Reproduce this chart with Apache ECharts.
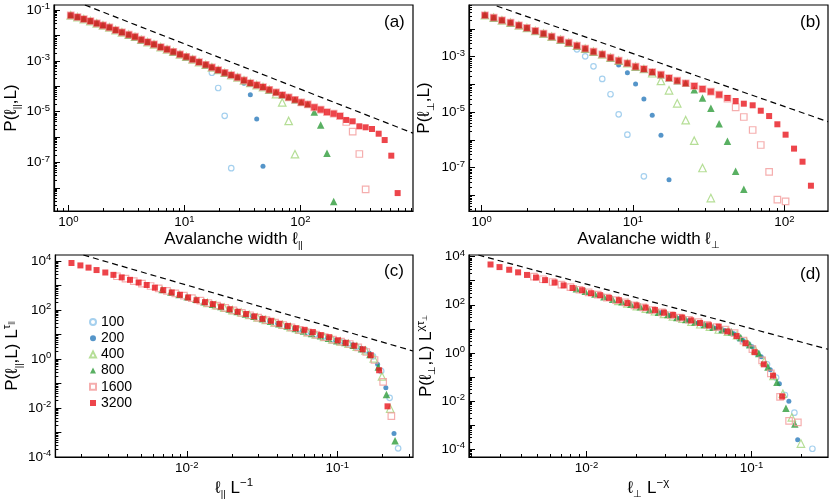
<!DOCTYPE html>
<html>
<head>
<meta charset="utf-8">
<script src="https://cdn.jsdelivr.net/npm/echarts@6/dist/echarts.min.js"></script>
<style>
html, body { margin: 0; padding: 0; background: #fff; }
#main { width: 831px; height: 501px; }
</style>
</head>
<body>
<div id="main"></div>
<script>
// avalanche widths (bin centres) shared by panels (a) and (b)
var ell = [1.05, 1.20, 1.36, 1.55, 1.76, 1.99, 2.26, 2.56, 2.90, 3.32, 3.76, 4.26, 4.83, 5.48, 6.26, 7.10, 8.04, 9.18, 10.4, 11.8,
    13.4, 15.3, 17.3, 19.6, 22.3, 25.4, 28.8, 32.7, 37.1, 42.1, 47.7, 54.0, 61.8, 69.9, 79.4, 90.0, 102, 116, 132, 150,
    170, 194, 220, 249, 283, 323, 366, 415, 474, 534, 609, 691];

var sizes = ['100', '200', '400', '800', '1600', '3200'];

// (a) P(l_par, L), one value per width in ell
var a3200 = [6.18e-2, 5.29e-2, 4.42e-2, 3.69e-2, 2.99e-2, 2.50e-2, 2.08e-2, 1.63e-2, 1.33e-2, 1.07e-2,
    8.9e-3, 6.78e-3, 5.5e-3, 4.47e-3, 3.49e-3, 2.84e-3, 2.28e-3, 1.80e-3, 1.45e-3, 1.15e-3,
    8.97e-4, 7.02e-4, 5.55e-4, 4.35e-4, 3.40e-4, 2.76e-4, 2.24e-4, 1.71e-4, 1.34e-4, 1.11e-4,
    9.3e-5, 7.28e-5, 5.75e-5, 4.51e-5, 3.66e-5, 2.94e-5, 2.32e-5, 1.94e-5, 1.48e-5, 1.2e-5,
    9.6e-6, 8.3e-6, 6.7e-6, 4.7e-6, 4.15e-6, 2.64e-6, 2.41e-6, 2.07e-6, 1.35e-6, 7.6e-7, 1.84e-7, 6.2e-9];
var a1600 = [6.18e-2, 5.29e-2, 4.42e-2, 3.69e-2, 2.99e-2, 2.50e-2, 2.08e-2, 1.63e-2, 1.33e-2, 1.07e-2,
    8.9e-3, 6.78e-3, 5.5e-3, 4.47e-3, 3.49e-3, 2.84e-3, 2.28e-3, 1.80e-3, 1.45e-3, 1.15e-3,
    8.97e-4, 7.02e-4, 5.55e-4, 4.35e-4, 3.40e-4, 2.76e-4, 2.24e-4, 1.71e-4, 1.34e-4, 1.11e-4,
    9.3e-5, 7.28e-5, 5.75e-5, 4.51e-5, 3.66e-5, 2.94e-5, 2.32e-5, 1.94e-5, 1.48e-5, 1.2e-5,
    9.6e-6, 8.3e-6, 6.7e-6, 3.9e-6, 1.62e-6, 2.14e-7, 8.7e-9];
var a800 = [6.18e-2, 5.29e-2, 4.42e-2, 3.69e-2, 2.99e-2, 2.50e-2, 2.08e-2, 1.63e-2, 1.33e-2, 1.07e-2,
    8.9e-3, 6.78e-3, 5.5e-3, 4.47e-3, 3.49e-3, 2.84e-3, 2.28e-3, 1.80e-3, 1.45e-3, 1.15e-3,
    8.97e-4, 7.02e-4, 5.55e-4, 4.35e-4, 3.40e-4, 2.76e-4, 2.24e-4, 1.71e-4, 1.34e-4, 1.11e-4,
    9.3e-5, 7.28e-5, 5.75e-5, 4.51e-5, 3.66e-5, 2.94e-5, 2.32e-5, 1.94e-5, 9.6e-6, 2.96e-6, 2.28e-7, 2.9e-9];
var a400 = [6.18e-2, 5.29e-2, 4.42e-2, 3.69e-2, 2.99e-2, 2.50e-2, 2.08e-2, 1.63e-2, 1.33e-2, 1.07e-2,
    8.9e-3, 6.78e-3, 5.5e-3, 4.47e-3, 3.49e-3, 2.84e-3, 2.28e-3, 1.80e-3, 1.45e-3, 1.15e-3,
    8.97e-4, 7.02e-4, 5.55e-4, 4.35e-4, 3.40e-4, 2.76e-4, 2.24e-4, 1.71e-4, 1.34e-4, 1.11e-4,
    9.3e-5, 7.28e-5, 4.9e-5, 2.3e-5, 4.3e-6, 2.1e-7];
var a200 = [6.18e-2, 5.29e-2, 4.42e-2, 3.69e-2, 2.99e-2, 2.50e-2, 2.08e-2, 1.63e-2, 1.33e-2, 1.07e-2,
    8.9e-3, 6.78e-3, 5.5e-3, 4.47e-3, 3.49e-3, 2.84e-3, 2.28e-3, 1.80e-3, 1.45e-3, 1.15e-3,
    8.97e-4, 7.02e-4, 5.55e-4, 4.35e-4, 3.40e-4, 2.76e-4, 2.24e-4, 1.3e-4, 4.6e-5, 5.1e-6, 7.0e-8];
var a100 = [6.18e-2, 5.29e-2, 4.42e-2, 3.69e-2, 2.99e-2, 2.50e-2, 2.08e-2, 1.63e-2, 1.33e-2, 1.07e-2,
    8.9e-3, 6.78e-3, 5.5e-3, 4.47e-3, 3.49e-3, 2.84e-3, 2.28e-3, 1.80e-3, 1.45e-3, 1.15e-3,
    8.97e-4, 7.02e-4, 3.4e-4, 8.5e-5, 6.8e-6, 5.9e-8];

// (b) P(l_perp, L), one value per width in ell (null = no point)
var b3200 = [3.13e-2, 2.56e-2, 2.06e-2, 1.69e-2, 1.36e-2, 1.09e-2, 8.5e-3, 6.8e-3, 5.3e-3, 4.1e-3,
    3.2e-3, 2.5e-3, 1.95e-3, 1.52e-3, 1.22e-3, 9.2e-4, 7.2e-4, 5.8e-4, 4.36e-4, 3.6e-4,
    2.8e-4, 2.24e-4, 1.70e-4, 1.36e-4, 1.10e-4, 8.75e-5, 6.8e-5, 5.45e-5, 4.25e-5, 3.23e-5,
    2.52e-5, 2.01e-5, 1.76e-5, 1.12e-5, 7.2e-6, 3.63e-6, 1.53e-6, 4.8e-7, 1.62e-7, 2.2e-8];
var b1600 = [3.13e-2, 2.56e-2, 2.06e-2, 1.69e-2, 1.36e-2, 1.09e-2, 8.5e-3, 6.8e-3, 5.3e-3, 4.1e-3,
    3.2e-3, 2.5e-3, 1.95e-3, 1.52e-3, 1.22e-3, 9.2e-4, 7.2e-4, 5.8e-4, 4.36e-4, 3.6e-4,
    2.8e-4, 2.24e-4, 1.70e-4, 1.36e-4, 1.10e-4, 8.75e-5, 6.8e-5, 5.45e-5, 4.25e-5, 3.05e-5,
    1.49e-5, 6.65e-6, 2.26e-6, 6.5e-7, 6.9e-8, 6.9e-9, 6.0e-9];
var b800 = [3.13e-2, 2.56e-2, 2.06e-2, 1.69e-2, 1.36e-2, 1.09e-2, 8.5e-3, 6.8e-3, 5.3e-3, 4.1e-3,
    3.2e-3, 2.5e-3, 1.95e-3, 1.52e-3, 1.22e-3, 9.2e-4, 7.2e-4, 5.8e-4, 4.36e-4, 3.6e-4,
    2.8e-4, 2.24e-4, 1.70e-4, 1.36e-4, 1.10e-4, 6.4e-5, 3.23e-5, 1.37e-5, 3.8e-6, 8.8e-7, 7.3e-8, 1.63e-8];
var b400 = [3.13e-2, 2.56e-2, 2.06e-2, 1.69e-2, 1.36e-2, 1.09e-2, 8.5e-3, 6.8e-3, 5.3e-3, 4.1e-3,
    3.2e-3, 2.5e-3, 1.95e-3, 1.52e-3, 1.22e-3, 9.2e-4, 7.2e-4, 5.8e-4, 4.36e-4, 3.6e-4,
    2.52e-4, 1.33e-4, 6.1e-5, 2.08e-5, 5.1e-6, 9.3e-7, 9.6e-8, 7.9e-9];
var b200 = [3.13e-2, 2.56e-2, 2.06e-2, 1.69e-2, 1.36e-2, 1.09e-2, 8.5e-3, 6.8e-3, 5.3e-3, 4.1e-3,
    3.2e-3, 2.5e-3, 1.95e-3, 1.52e-3, 1.22e-3, 9.2e-4, 5.0e-4, 2.64e-4, 1.03e-4, 2.97e-5, 7.7e-6, 1.45e-6, 3.6e-8];
var b100 = [3.13e-2, 2.56e-2, 2.06e-2, 1.69e-2, 1.36e-2, 1.09e-2, 8.5e-3, 6.8e-3, 5.3e-3, 4.1e-3,
    3.2e-3, 1.85e-3, 1.03e-3, 4.5e-4, 1.57e-4, 4.4e-5, 8.3e-6, 1.53e-6, null, 4.8e-8];

// (c) scaled: [l_par / L, P L^tau]
var c3200 = [[1.71e-3, 8300], [1.96e-3, 6600], [2.22e-3, 5370], [2.51e-3, 4270], [2.87e-3, 3390], [3.25e-3, 2720],
    [3.69e-3, 2140], [4.19e-3, 1700], [4.78e-3, 1320], [5.41e-3, 1050], [6.13e-3, 813], [6.97e-3, 646], [7.94e-3, 519],
    [9.0e-3, 417], [1.02e-2, 324], [1.16e-2, 251], [1.32e-2, 209], [1.49e-2, 174], [1.69e-2, 138], [1.93e-2, 107],
    [2.18e-2, 85], [2.48e-2, 69], [2.81e-2, 55], [3.19e-2, 43.6], [3.63e-2, 36.3], [4.13e-2, 27.5], [4.69e-2, 22.4],
    [5.31e-2, 18.2], [6.06e-2, 15.5], [6.88e-2, 12.6], [7.78e-2, 9.5], [8.84e-2, 7.8], [0.101, 5.8], [0.114, 4.6],
    [0.130, 3.5], [0.148, 2.5], [0.167, 1.43], [0.190, 0.347], [0.216, 0.0117]];
var c1600 = [[3.43e-3, 2390], [3.91e-3, 1900], [4.44e-3, 1510], [5.03e-3, 1200], [5.74e-3, 955], [6.5e-3, 760],
    [7.38e-3, 603], [8.38e-3, 481], [9.56e-3, 383], [1.08e-2, 303], [1.23e-2, 242], [1.39e-2, 192], [1.59e-2, 152],
    [1.80e-2, 121], [2.04e-2, 96.6], [2.32e-2, 76.9], [2.63e-2, 61], [2.98e-2, 48.5], [3.38e-2, 38.6], [3.86e-2, 30.6],
    [4.37e-2, 24.4], [4.96e-2, 19.4], [5.63e-2, 15.4], [6.38e-2, 12.3], [7.25e-2, 9.8], [8.25e-2, 7.8], [9.38e-2, 6.2],
    [0.106, 5.1], [0.121, 4.1], [0.138, 3.0], [0.156, 1.93], [0.177, 0.91], [0.202, 0.117], [0.229, 4.7e-3]];
var c800 = [[6.85e-3, 686], [7.83e-3, 546], [8.88e-3, 434], [1.005e-2, 344], [1.15e-2, 275], [1.30e-2, 219],
    [1.48e-2, 173], [1.68e-2, 138], [1.91e-2, 110], [2.16e-2, 87], [2.45e-2, 69.3], [2.79e-2, 55.2], [3.18e-2, 43.8],
    [3.6e-2, 34.8], [4.09e-2, 27.7], [4.64e-2, 22.1], [5.26e-2, 17.5], [5.96e-2, 13.9], [6.75e-2, 11.1], [7.73e-2, 8.8],
    [8.74e-2, 7.0], [9.93e-2, 5.6], [0.1125, 4.7], [0.1275, 3.6], [0.145, 2.6], [0.165, 1.51], [0.1875, 0.468],
    [0.2125, 0.0358], [0.2425, 4.6e-4]];
var c400 = [[1.37e-2, 197], [1.565e-2, 157], [1.775e-2, 125], [2.01e-2, 99], [2.3e-2, 78.9], [2.6e-2, 62.8],
    [2.95e-2, 49.8], [3.35e-2, 39.6], [3.83e-2, 31.5], [4.33e-2, 25], [4.9e-2, 19.9], [5.58e-2, 15.8], [6.35e-2, 12.6],
    [7.2e-2, 10], [8.18e-2, 8.0], [9.28e-2, 6.3], [0.105, 5.2], [0.119, 4.2], [0.135, 3.2], [0.1545, 2.23],
    [0.175, 1.06], [0.1985, 0.194], [0.225, 9.5e-3]];
var c200 = [[2.74e-2, 56.6], [3.13e-2, 45.1], [3.55e-2, 35.9], [4.02e-2, 28.4], [4.59e-2, 22.6], [5.2e-2, 18],
    [5.9e-2, 14.3], [6.7e-2, 11.4], [7.65e-2, 9.1], [8.65e-2, 7.2], [9.8e-2, 5.75], [0.1115, 4.8], [0.127, 3.8],
    [0.144, 2.75], [0.1635, 1.71], [0.1855, 0.608], [0.2105, 0.0673], [0.2385, 9.2e-4]];
var c100 = [[5.48e-2, 16.3], [6.26e-2, 12.9], [7.1e-2, 10.3], [8.04e-2, 8.2], [9.18e-2, 6.5], [0.104, 5.4],
    [0.118, 4.3], [0.134, 3.2], [0.153, 2.3], [0.173, 1.29], [0.196, 0.324], [0.223, 0.026], [0.254, 2.25e-4]];

// (d) scaled: [l_perp L^-chi, P L^(chi tau)]
var d3200 = [[2.62e-3, 4740], [2.97e-3, 3690], [3.40e-3, 2860], [3.85e-3, 2230], [4.36e-3, 1740], [4.94e-3, 1360],
    [5.61e-3, 1060], [6.41e-3, 849], [7.27e-3, 641], [8.23e-3, 501], [9.4e-3, 404], [1.065e-2, 303], [1.21e-2, 251],
    [1.37e-2, 195], [1.57e-2, 156], [1.77e-2, 118], [2.01e-2, 94.8], [2.28e-2, 76.6], [2.6e-2, 61], [2.95e-2, 47.4],
    [3.35e-2, 37.9], [3.8e-2, 29.6], [4.31e-2, 22.5], [4.88e-2, 17.5], [5.53e-2, 14], [6.33e-2, 12.3], [7.15e-2, 7.8],
    [8.13e-2, 5.0], [9.21e-2, 2.53], [0.1044, 1.07], [0.1187, 0.334], [0.1351, 0.113], [0.1535, 0.0153]];
var d1600 = [[4.8e-3, 1470], [5.44e-3, 1150], [6.23e-3, 887], [7.05e-3, 692], [7.99e-3, 541], [9.06e-3, 422],
    [1.03e-2, 329], [1.17e-2, 264], [1.33e-2, 199], [1.51e-2, 156], [1.72e-2, 125], [1.95e-2, 94.2], [2.21e-2, 77.8],
    [2.51e-2, 60.5], [2.87e-2, 48.4], [3.25e-2, 36.7], [3.68e-2, 29.4], [4.18e-2, 23.8], [4.77e-2, 18.9], [5.4e-2, 14.7],
    [6.14e-2, 11.8], [6.96e-2, 9.2], [7.9e-2, 6.6], [8.95e-2, 3.22], [0.1013, 1.44], [0.116, 0.489], [0.131, 0.141],
    [0.149, 0.0149], [0.169, 1.49e-3], [0.191, 1.30e-3]];
var d800 = [[8.68e-3, 465], [9.83e-3, 361], [1.125e-2, 280], [1.275e-2, 218], [1.44e-2, 171], [1.64e-2, 133],
    [1.86e-2, 104], [2.12e-2, 83.2], [2.41e-2, 62.8], [2.73e-2, 49.1], [3.11e-2, 39.5], [3.53e-2, 29.7], [4.0e-2, 24.5],
    [4.54e-2, 19.1], [5.19e-2, 15.3], [5.86e-2, 11.6], [6.64e-2, 9.3], [7.56e-2, 7.5], [8.61e-2, 4.37], [9.76e-2, 2.2],
    [0.1108, 0.935], [0.1258, 0.259], [0.1427, 0.06], [0.1617, 4.98e-3], [0.183, 1.11e-3]];
var d400 = [[1.56e-2, 146], [1.77e-2, 114], [2.02e-2, 88.1], [2.29e-2, 68.7], [2.6e-2, 53.7], [2.95e-2, 41.9],
    [3.34e-2, 32.7], [3.82e-2, 26.2], [4.33e-2, 19.8], [4.9e-2, 15.5], [5.6e-2, 12.4], [6.34e-2, 9.4], [7.2e-2, 7.7],
    [8.17e-2, 5.4], [9.33e-2, 2.86], [0.1055, 1.31], [0.1195, 0.447], [0.136, 0.11], [0.155, 0.02], [0.1756, 2.06e-3],
    [0.1994, 1.7e-4]];
var d200 = [[2.82e-2, 46.1], [3.19e-2, 35.9], [3.66e-2, 27.8], [4.14e-2, 21.7], [4.69e-2, 16.9], [5.32e-2, 13.2],
    [6.04e-2, 10.3], [6.89e-2, 8.3], [7.82e-2, 6.2], [8.85e-2, 3.39], [0.101, 1.79], [0.1145, 0.698], [0.13, 0.201],
    [0.1476, 0.0522], [0.1685, 9.8e-3], [0.1905, 2.44e-4]];
var d100 = [[5.08e-2, 14.6], [5.75e-2, 11.3], [6.59e-2, 8.8], [7.46e-2, 6.8], [8.45e-2, 3.95], [9.58e-2, 2.2],
    [0.1087, 0.96], [0.1242, 0.336], [0.141, 0.094], [0.1595, 0.0177], [0.182, 3.27e-3], [0.234, 1.03e-4]];

// dashed guide lines, two end points each
var dashA = [[1.39, 0.158], [937, 1.42e-6]];
var dashB = [[1.256, 0.0676], [194.5, 4.5e-6]];
var dashC = [[2.05e-3, 17580], [0.319, 2.12]];
var dashD = [[2.21e-3, 11750], [0.291, 1.41]];

// tick labels
var xLabelsAB = [1, 10, 100];
var xLabelsCD = [0.01, 0.1];
var yLabelsA = [1e-1, 1e-3, 1e-5, 1e-7];
var yLabelsB = [1e-3, 1e-5, 1e-7];
var yLabelsCD = [1e4, 1e2, 1, 1e-2, 1e-4];

var FONT = '"Liberation Sans", Arial, sans-serif';

var chart = echarts.init(document.getElementById('main'), null, { renderer: 'canvas' });

var marks = {
    '100': { symbol: 'circle', symbolSize: 5.5, itemStyle: { color: 'rgba(255,255,255,0)', borderColor: '#8ec4ea', borderWidth: 1.2 } },
    '200': { symbol: 'circle', symbolSize: 5, itemStyle: { color: '#2a7bbb' } },
    '400': { symbol: 'triangle', symbolSize: 7.5, itemStyle: { color: 'rgba(255,255,255,0)', borderColor: '#a2d67c', borderWidth: 1.2 } },
    '800': { symbol: 'triangle', symbolSize: 7.5, itemStyle: { color: '#2f9c3b' } },
    '1600': { symbol: 'rect', symbolSize: 6.5, itemStyle: { color: 'rgba(255,255,255,0)', borderColor: '#f39a9a', borderWidth: 1.2 } },
    '3200': { symbol: 'rect', symbolSize: 6, itemStyle: { color: '#e8161e' } }
};

function pairs(vals) {
    var out = [];
    for (var i = 0; i < vals.length; i++) {
        if (vals[i] != null) out.push([ell[i], vals[i]]);
    }
    return out;
}

function decadeTicks(lo, hi) {
    var v = [];
    for (var e = Math.floor(Math.log10(lo)); e <= Math.ceil(Math.log10(hi)); e++) {
        var x = Math.pow(10, e);
        if (x >= lo && x <= hi) v.push(x);
    }
    return v;
}
function minorTicks(lo, hi) {
    var v = [];
    for (var e = Math.floor(Math.log10(lo)); e <= Math.ceil(Math.log10(hi)); e++) {
        for (var m = 2; m <= 9; m++) {
            var x = m * Math.pow(10, e);
            if (x > lo && x < hi) v.push(x);
        }
    }
    return v;
}

var tickRich = {
    b: { fontSize: 13.5, lineHeight: 17, fontFamily: FONT, color: '#000' },
    s: { fontSize: 9.5, fontFamily: FONT, color: '#000', verticalAlign: 'top' }
};
var nameRich = {
    t: { fontSize: 17, lineHeight: 23, fontFamily: FONT, color: '#000' },
    sub: { fontSize: 9.5, fontFamily: FONT, color: '#000', verticalAlign: 'bottom' },
    sup: { fontSize: 11.5, fontFamily: FONT, color: '#000', verticalAlign: 'top' },
    ss: { fontSize: 7, fontFamily: FONT, color: '#000', verticalAlign: 'top', padding: [7, 0, 0, 0] }
};

function expLabel(v) {
    return '{b|10}{s|' + Math.round(Math.log10(v)) + '}';
}

var xAxes = [], yAxes = [];
function addAxes(list, dim, gi, lo, hi, labels, name, nameGap) {
    var pos = dim === 'x' ? 'bottom' : 'left';
    list.push({
        type: 'log', gridIndex: gi, min: lo, max: hi, position: pos,
        axisLine: { show: true, lineStyle: { color: '#000', width: 1.2 } },
        axisTick: { show: true, inside: true, length: 6, customValues: decadeTicks(lo, hi), lineStyle: { color: '#000', width: 1 } },
        axisLabel: { show: true, customValues: labels, formatter: expLabel, rich: tickRich, margin: dim === 'x' ? 3 : 4 },
        splitLine: { show: false },
        name: name, nameLocation: 'middle', nameGap: nameGap,
        nameTextStyle: { rich: nameRich, fontFamily: FONT, fontSize: 17, color: '#000' }
    });
    list.push({
        type: 'log', gridIndex: gi, min: lo, max: hi, position: pos,
        axisLine: { show: false },
        axisTick: { show: true, inside: true, length: 3, customValues: minorTicks(lo, hi), lineStyle: { color: '#000', width: 1 } },
        axisLabel: { show: false },
        splitLine: { show: false }
    });
}

addAxes(xAxes, 'x', 0, 0.753, 937, xLabelsAB, '{t|Avalanche width ℓ}{sub|||}', 14);
addAxes(yAxes, 'y', 0, 1.22e-9, 0.158, yLabelsA, '{t|P(ℓ}{sub|||}{t|,L)}', 29);
addAxes(xAxes, 'x', 1, 0.824, 194.5, xLabelsAB, '{t|Avalanche width ℓ}{sub|⊥}', 14);
addAxes(yAxes, 'y', 1, 2.69e-9, 0.0734, yLabelsB, '{t|P(ℓ}{sub|⊥}{t|,L)}', 33);
addAxes(xAxes, 'x', 2, 1.336e-3, 0.319, xLabelsCD, '{t|ℓ}{sub|||}{t| L}{sup|−1}', 11);
addAxes(yAxes, 'y', 2, 1e-4, 17580, yLabelsCD, '{t|P(ℓ}{sub|||}{t|,L) L}{sup|τ}{ss|||}', 28);
addAxes(xAxes, 'x', 3, 1.94e-3, 0.2909, xLabelsCD, '{t|ℓ}{sub|⊥}{t| L}{sup|−χ}', 11);
addAxes(yAxes, 'y', 3, 4.68e-5, 11750, yLabelsCD, '{t|P(ℓ}{sub|⊥}{t|,L) L}{sup|χτ}{ss|⊥}', 27);

var panels = [
    { data: [pairs(a100), pairs(a200), pairs(a400), pairs(a800), pairs(a1600), pairs(a3200)], dash: dashA },
    { data: [pairs(b100), pairs(b200), pairs(b400), pairs(b800), pairs(b1600), pairs(b3200)], dash: dashB },
    { data: [c100, c200, c400, c800, c1600, c3200], dash: dashC },
    { data: [d100, d200, d400, d800, d1600, d3200], dash: dashD }
];

var series = [];
panels.forEach(function (p, gi) {
    series.push({
        type: 'line', xAxisIndex: 2 * gi, yAxisIndex: 2 * gi, data: p.dash, symbol: 'none', silent: true, z: 1,
        lineStyle: { color: '#000', width: 1.2, type: [6, 4] }
    });
    sizes.forEach(function (s, i) {
        series.push(Object.assign({
            type: 'scatter', name: s, xAxisIndex: 2 * gi, yAxisIndex: 2 * gi, data: p.data[i], silent: true, z: 2
        }, marks[s]));
    });
});

var option = {
    animation: false,
    backgroundColor: '#fff',
    textStyle: { fontFamily: FONT },
    grid: [
        { left: 54, top: 5, width: 359, height: 206, show: true, borderColor: '#000', borderWidth: 1.2 },
        { left: 469, top: 5, width: 359, height: 206, show: true, borderColor: '#000', borderWidth: 1.2 },
        { left: 54, top: 255, width: 359, height: 202, show: true, borderColor: '#000', borderWidth: 1.2 },
        { left: 469, top: 255, width: 359, height: 202, show: true, borderColor: '#000', borderWidth: 1.2 }
    ],
    xAxis: xAxes,
    yAxis: yAxes,
    legend: {
        data: sizes, orient: 'vertical', left: 89, top: 315, itemWidth: 6, itemHeight: 6, itemGap: 2.2,
        padding: 0, selectedMode: false,
        textStyle: { fontSize: 14, color: '#000', fontFamily: FONT }
    },
    graphic: [
        { type: 'text', left: 384, top: 14, style: { text: '(a)', font: '17px ' + FONT, fill: '#000' } },
        { type: 'text', left: 800, top: 14, style: { text: '(b)', font: '17px ' + FONT, fill: '#000' } },
        { type: 'text', left: 384, top: 263, style: { text: '(c)', font: '17px ' + FONT, fill: '#000' } },
        { type: 'text', left: 800, top: 266, style: { text: '(d)', font: '17px ' + FONT, fill: '#000' } }
    ],
    series: series
};

chart.setOption(option);
</script>
</body>
</html>
